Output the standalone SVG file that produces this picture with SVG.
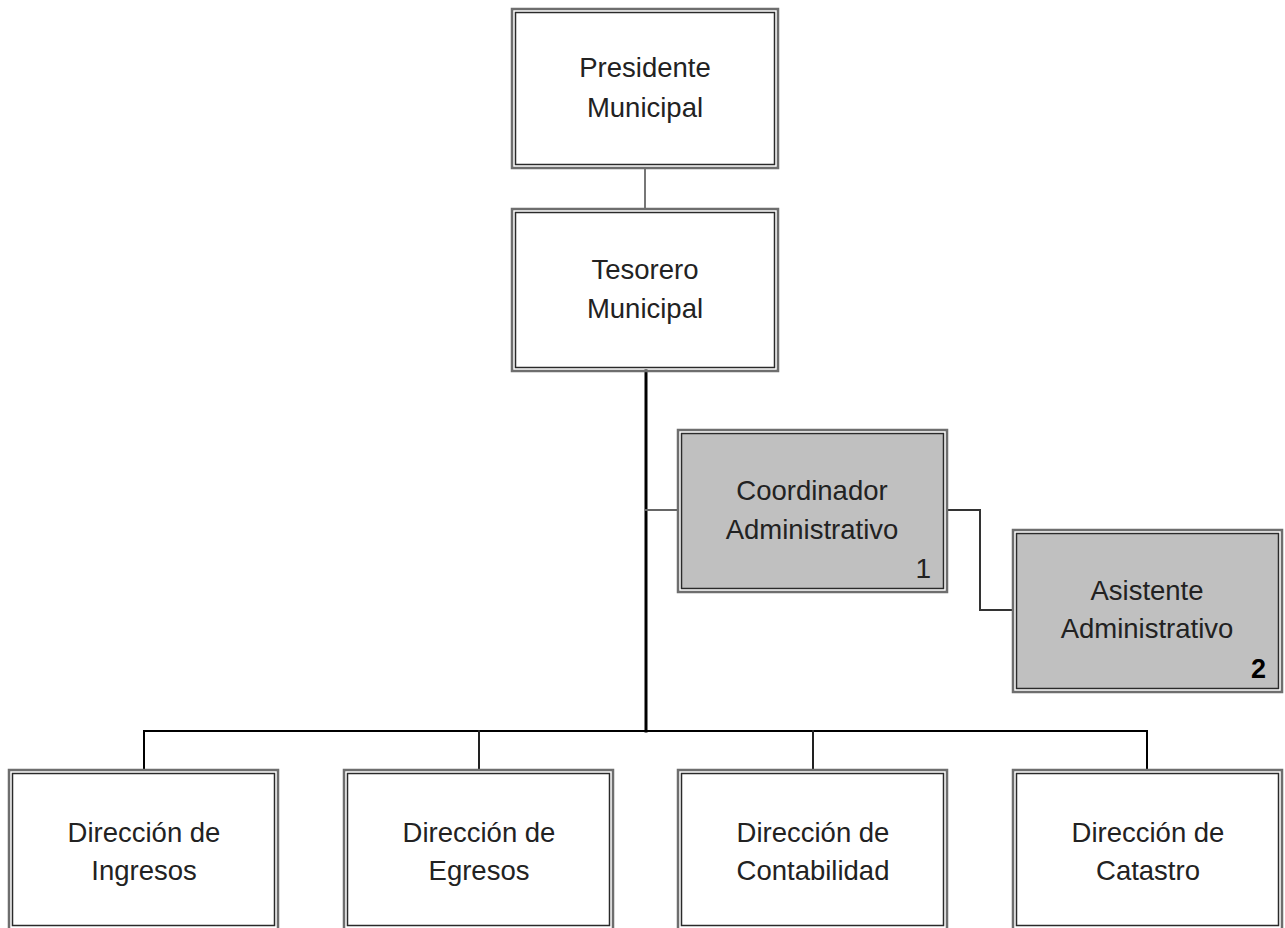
<svg xmlns="http://www.w3.org/2000/svg" width="1285" height="928" viewBox="0 0 1285 928">
<style>
.outer{fill:none;stroke:#6e6e6e;stroke-width:2.5}
.inner{stroke:#2a2a2a;stroke-width:1.5}
.w{fill:#ffffff}
.g{fill:#c0c0c0}
.t{font-family:"Liberation Sans",Arial,sans-serif;font-size:27.5px;fill:#222;text-anchor:middle}
.n{font-family:"Liberation Sans",Arial,sans-serif;font-size:28px;fill:#222;text-anchor:end}
.nb{font-family:"Liberation Sans",Arial,sans-serif;font-size:27px;font-weight:bold;fill:#000;text-anchor:end}
.c{fill:none;stroke-linecap:square}
</style>
<rect width="1285" height="928" fill="#ffffff"/>
<g id="connectors">
<path class="c" d="M645 168 V209" stroke="#777" stroke-width="2"/>
<path class="c" d="M646 371 V731" stroke="#000" stroke-width="3"/>
<path class="c" d="M646 510 H678" stroke="#666" stroke-width="2"/>
<path class="c" d="M947 510 H980 V610 H1013" stroke="#333" stroke-width="2"/>
<path class="c" d="M144 770 V731 H1147 V770" stroke="#000" stroke-width="2"/>
<path class="c" d="M479 731 V770 M813 731 V770" stroke="#222" stroke-width="2"/>
</g>
<g id="presidente">
<rect class="w inner" x="515.5" y="12.5" width="259" height="152"/>
<rect class="outer" x="512" y="9" width="266" height="159"/>
<text class="t" x="645" y="77">Presidente</text>
<text class="t" x="645" y="117">Municipal</text>
</g>
<g id="tesorero">
<rect class="w inner" x="515.5" y="212.5" width="259" height="155"/>
<rect class="outer" x="512" y="209" width="266" height="162"/>
<text class="t" x="645" y="279">Tesorero</text>
<text class="t" x="645" y="318">Municipal</text>
</g>
<g id="coordinador">
<rect class="g inner" x="681.5" y="433.5" width="262" height="155"/>
<rect class="outer" x="678" y="430" width="269" height="162"/>
<text class="t" x="812" y="500">Coordinador</text>
<text class="t" x="812" y="539">Administrativo</text>
<text class="n" x="931" y="578">1</text>
</g>
<g id="asistente">
<rect class="g inner" x="1016.5" y="533.5" width="262" height="155"/>
<rect class="outer" x="1013" y="530" width="269" height="162"/>
<text class="t" x="1147" y="600">Asistente</text>
<text class="t" x="1147" y="638">Administrativo</text>
<text class="nb" x="1266" y="678">2</text>
</g>
<g id="ingresos">
<rect class="w inner" x="12.5" y="773.5" width="262" height="152"/>
<rect class="outer" x="9" y="770" width="269" height="162"/>
<text class="t" x="144" y="842">Dirección de</text>
<text class="t" x="144" y="880">Ingresos</text>
</g>
<g id="egresos">
<rect class="w inner" x="347.5" y="773.5" width="262" height="152"/>
<rect class="outer" x="344" y="770" width="269" height="162"/>
<text class="t" x="479" y="842">Dirección de</text>
<text class="t" x="479" y="880">Egresos</text>
</g>
<g id="contabilidad">
<rect class="w inner" x="681.5" y="773.5" width="262" height="152"/>
<rect class="outer" x="678" y="770" width="269" height="162"/>
<text class="t" x="813" y="842">Dirección de</text>
<text class="t" x="813" y="880">Contabilidad</text>
</g>
<g id="catastro">
<rect class="w inner" x="1016.5" y="773.5" width="262" height="152"/>
<rect class="outer" x="1013" y="770" width="269" height="162"/>
<text class="t" x="1148" y="842">Dirección de</text>
<text class="t" x="1148" y="880">Catastro</text>
</g>
</svg>
